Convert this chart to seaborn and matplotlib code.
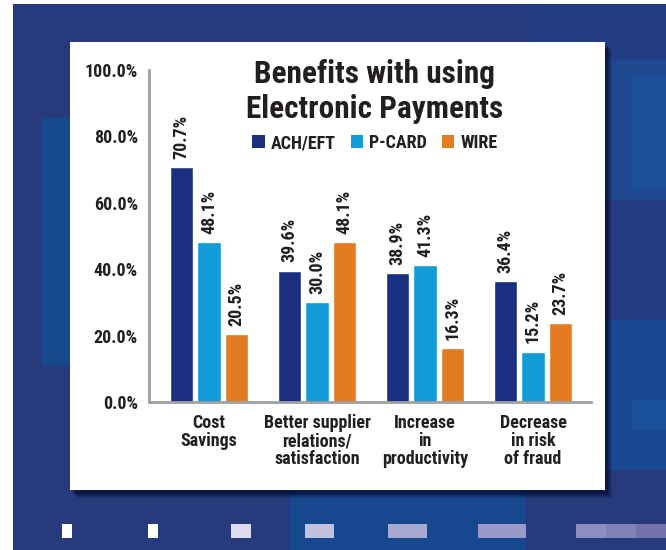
import matplotlib
matplotlib.use("Agg")
import matplotlib.pyplot as plt
from matplotlib.patches import Rectangle, Patch
import pandas as pd
import seaborn as sns

# ---- data -------------------------------------------------------------
categories = ["Cost\nSavings", "Better supplier\nrelations/\nsatisfaction",
              "Increase\nin\nproductivity", "Decrease\nin risk\nof fraud"]
series = ["ACH/EFT", "P-CARD", "WIRE"]
ach_eft = [70.7, 39.6, 38.9, 36.4]
p_card = [48.1, 30.0, 41.3, 15.2]
wire = [20.5, 48.1, 16.3, 23.7]
y_ticks = [0, 20, 40, 60, 80, 100]
y_tick_labels = ["0.0%", "20.0%", "40.0%", "60.0%", "80.0%", "100.0%"]

colors = ["#1b2f80", "#139bd8", "#e37c20"]
text_dark = "#231f20"
fonts = ["Roboto Condensed", "DejaVu Sans"]

df = pd.DataFrame({
    "category": categories * 3,
    "series": [s for s in series for _ in categories],
    "value": ach_eft + p_card + wire,
})

sns.set_theme(style="white")
plt.rcParams["font.family"] = fonts
plt.rcParams["font.weight"] = "bold"

W, H = 666, 550
fig = plt.figure(figsize=(W / 100, H / 100), dpi=100)
fig.patch.set_facecolor("white")


def px_rect(x0, y0, x1, y1, **kw):
    """Rectangle given in pixel coordinates measured from the top-left."""
    r = Rectangle((x0 / W, 1 - y1 / H), (x1 - x0) / W, (y1 - y0) / H,
                  transform=fig.transFigure, **kw)
    fig.add_artist(r)
    return r


# ---- blue backdrop ------------------------------------------------------
bg = [
    (13, 4, W, H, "#263a7c"),
    (290, 300, 525, H, "#17478e"),
    (42, 118, 70, 365, "#154a8e"),
    (525, 4, W, 60, "#233d83"),
    (605, 60, W, 200, "#1f4890"),
    (632, 75, W, 190, "#1d4f99"),
    (605, 200, W, 320, "#243c82"),
    (605, 320, W, 470, "#18488f"),
    (632, 400, W, 430, "#1b519a"),
]
for i, (x0, y0, x1, y1, c) in enumerate(bg):
    px_rect(x0, y0, x1, y1, facecolor=c, edgecolor="none", zorder=-30 + i)

# stepped squares along the bottom
squares = [(62, 72, "#ffffff"), (148, 158, "#ffffff"), (231, 251, "#dcdcee"),
           (305, 334, "#c0c0df"), (388, 427, "#a8a9d1"), (478, 526, "#9a9ac8"),
           (576, 606, "#8c8ec2"), (606, 636, "#8182b8"), (636, 666, "#7572ab")]
for x0, x1, c in squares:
    px_rect(x0, 524, x1, 538, facecolor=c, edgecolor="none", zorder=-17)

# soft shadow under the white panel
for i, a in enumerate([0.10, 0.14, 0.18, 0.24, 0.34]):
    d = 5 - i
    px_rect(70 + 2 + d, 42 + 3 + d, 605 + 2 + d, 490 + 3 + d,
            facecolor="#05082a", edgecolor="none", alpha=a, zorder=-16)
px_rect(70, 42, 605, 490, facecolor="white", edgecolor="none", zorder=-15)

# ---- bars ---------------------------------------------------------------
ax = fig.add_axes([149 / W, 1 - 402 / H, (591 - 149) / W, (402 - 70) / H])
ax.patch.set_visible(False)

sns.barplot(data=df, x="category", y="value", hue="series",
            hue_order=series, order=categories, palette=colors,
            width=0.765, gap=0.16, saturation=1, ax=ax, legend=False)

for cont in ax.containers:
    ax.bar_label(cont, fmt="{:.1f}%", rotation=90, padding=6,
                 fontsize=13, fontweight="bold", color=text_dark)

ax.set_ylim(0, 100)
ax.set_xlim(-0.556, 3.537)
ax.set_yticks(y_ticks)
ax.set_yticklabels(y_tick_labels)
ax.set_xlabel("")
ax.set_ylabel("")
ax.tick_params(axis="both", length=0, colors=text_dark)
ax.tick_params(axis="y", pad=8, labelsize=13)
ax.tick_params(axis="x", pad=9, labelsize=13)
for lab in ax.get_xticklabels() + ax.get_yticklabels():
    lab.set_fontweight("bold")
    lab.set_color(text_dark)
for lab in ax.get_xticklabels():
    lab.set_linespacing(1.0)

for side in ("top", "right"):
    ax.spines[side].set_visible(False)
for side in ("left", "bottom"):
    ax.spines[side].set_color("#9d9fa2")
    ax.spines[side].set_linewidth(2.0)

# ---- title and legend --------------------------------------------------
for line, base in [("Benefits with using", 83), ("Electronic Payments", 118)]:
    fig.text(375 / W, 1 - base / H, line, ha="center", va="baseline",
             fontsize=22.5, fontweight=900, color=text_dark)

handles = [Patch(facecolor=c, edgecolor="none") for c in colors]
fig.legend(handles, series, loc="center", bbox_to_anchor=(375 / W, 1 - 143 / H),
           ncol=3, frameon=False, handlelength=0.7, handleheight=0.7,
           handletextpad=0.35, columnspacing=0.8,
           prop={"family": fonts, "weight": 800, "size": 13})
for t in fig.legends[0].get_texts():
    t.set_color(text_dark)

fig.savefig("out.png", dpi=100)
